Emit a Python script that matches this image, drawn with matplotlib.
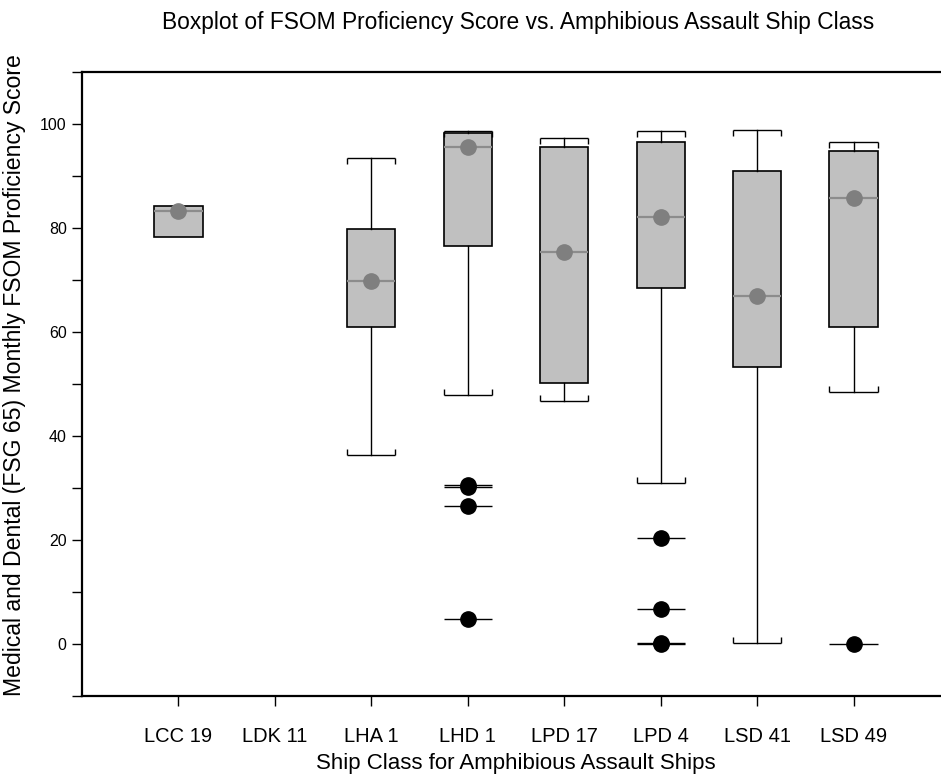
import matplotlib
matplotlib.use("Agg")
import matplotlib.pyplot as plt
from matplotlib.ticker import MultipleLocator

plt.rcParams['font.family'] = ['Liberation Sans', 'DejaVu Sans']

categories = ['LCC 19', 'LDK 11', 'LHA 1', 'LHD 1', 'LPD 17', 'LPD 4', 'LSD 41', 'LSD 49']
q1 = [78.2, None, 61.0, 76.5, 50.2, 68.5, 53.3, 60.9]
med = [83.3, None, 69.9, 95.5, 75.3, 82.2, 66.9, 85.8]
q3 = [84.2, None, 79.8, 98.3, 95.5, 96.6, 91.0, 94.8]
whislo = [78.2, None, 36.3, 47.9, 46.7, 30.9, 0.1, 48.4]
whishi = [84.2, None, 93.5, 98.6, 97.4, 98.7, 98.8, 96.6]
means = [83.3, None, 69.9, 95.5, 75.3, 82.2, 66.9, 85.8]
fliers = [[], [], [], [30.5, 30.1, 26.6, 4.9], [], [20.4, 6.8, 0.1, 0.0], [], [0.0]]

title = 'Boxplot of FSOM Proficiency Score vs. Amphibious Assault Ship Class'
xlabel = 'Ship Class for Amphibious Assault Ships'
ylabel = 'Medical and Dental (FSG 65) Monthly FSOM Proficiency Score'

W, H = 941, 780
fig = plt.figure(figsize=(W / 100, H / 100), dpi=100)
ax = fig.add_axes([82 / W, (H - 696) / H, 868 / W, 624 / H])

bw = 0.5
stats, pos = [], []
for i, c in enumerate(categories):
    if med[i] is None:
        continue
    stats.append(dict(med=med[i], q1=q1[i], q3=q3[i], whislo=whislo[i],
                      whishi=whishi[i], mean=means[i], fliers=[], label=c))
    pos.append(i + 1)

ax.bxp(stats, positions=pos, widths=bw, patch_artist=True, showmeans=True,
       showcaps=False, showfliers=False,
       boxprops=dict(facecolor='#c0c0c0', edgecolor='black', linewidth=1.2),
       medianprops=dict(color='#8c8c8c', linewidth=1.6),
       whiskerprops=dict(color='black', linewidth=1.0),
       meanprops=dict(marker='o', markerfacecolor='#7f7f7f', markeredgecolor='#7f7f7f',
                      markersize=11),
       zorder=2)

# bracket caps
for s, p in zip(stats, pos):
    if s['whislo'] < s['q1']:
        ax.hlines(s['whislo'], p - bw / 2, p + bw / 2, color='black', lw=1.0, zorder=3)
        ax.plot([p - bw / 2, p + bw / 2], [s['whislo']] * 2, linestyle='none',
                marker=2, color='black', markersize=4, mew=1.0, zorder=3)
    if s['whishi'] > s['q3']:
        ax.hlines(s['whishi'], p - bw / 2, p + bw / 2, color='black', lw=1.0, zorder=3)
        ax.plot([p - bw / 2, p + bw / 2], [s['whishi']] * 2, linestyle='none',
                marker=3, color='black', markersize=4, mew=1.0, zorder=3)

# outliers with horizontal lines
for i, f in enumerate(fliers):
    p = i + 1
    for v in f:
        ax.hlines(v, p - bw / 2, p + bw / 2, color='black', lw=1.0, zorder=3)
        ax.plot([p], [v], marker='o', color='black', markersize=11, zorder=4)

ax.set_xlim(0, 9)
ax.set_ylim(-10, 110)
ax.set_xticks(range(1, len(categories) + 1))
ax.set_xticklabels(categories, fontsize=14.5)
ax.yaxis.set_major_locator(MultipleLocator(20))
ax.yaxis.set_minor_locator(MultipleLocator(10))
ax.tick_params(axis='y', which='both', direction='out', length=7, width=1.0, labelsize=11.5, pad=4)
ax.tick_params(axis='x', direction='out', length=7, width=1.0, pad=15)

for sp in ['left', 'top', 'bottom']:
    ax.spines[sp].set_linewidth(1.6)
ax.spines['right'].set_visible(False)

ax.set_xlabel(xlabel, fontsize=16, labelpad=5)
ax.set_ylabel(ylabel, fontsize=16.6)
ax.yaxis.set_label_coords(-0.064, 0.514)
fig.text((82 + 436) / W, 1 - 23 / H, title, ha='center', va='center', fontsize=16.4)

fig.savefig('out.png', dpi=100)
